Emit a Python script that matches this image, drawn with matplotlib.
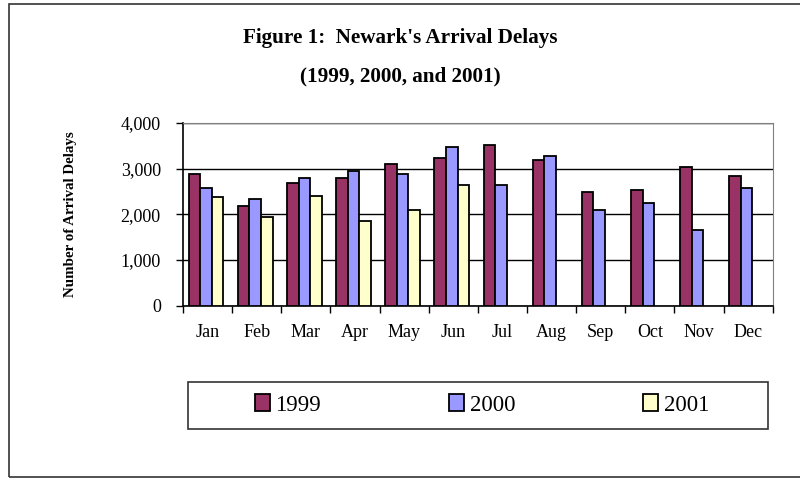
import matplotlib
matplotlib.use("Agg")
import matplotlib.pyplot as plt
import numpy as np
from matplotlib.patches import Rectangle
from matplotlib.ticker import FuncFormatter, FixedLocator

months = ['Jan', 'Feb', 'Mar', 'Apr', 'May', 'Jun',
          'Jul', 'Aug', 'Sep', 'Oct', 'Nov', 'Dec']
delays_1999 = [2880, 2180, 2680, 2800, 3100, 3230,
               3510, 3200, 2480, 2530, 3040, 2850]
delays_2000 = [2570, 2330, 2800, 2950, 2880, 3470,
               2650, 3280, 2090, 2250, 1660, 2570]
delays_2001 = [2370, 1940, 2400, 1860, 2090, 2650]

plt.rcParams['font.family'] = ['Liberation Serif', 'DejaVu Serif']

fig = plt.figure(figsize=(8, 4.78), dpi=100)

# outer chart border (right side runs off the picture)
fig.patches.append(Rectangle((9 / 800, 1.5 / 478), 1.0, 1 - 5.5 / 478,
                             transform=fig.transFigure, fill=False,
                             edgecolor='#333333', linewidth=1.2, zorder=0))

ax = fig.add_axes([183 / 800, 1 - 305.7 / 478, 589.7 / 800, 182.7 / 478])

x = np.arange(len(months))
w = 0.235
shift = -0.03
ax.bar(x - w + shift, delays_1999, w, color='#993366', edgecolor='black',
       linewidth=1.3, label='1999', zorder=3)
ax.bar(x + shift, delays_2000, w, color='#9999FF', edgecolor='black',
       linewidth=1.3, label='2000', zorder=3)
ax.bar(x[:len(delays_2001)] + w + shift, delays_2001, w, color='#FFFFCC',
       edgecolor='black', linewidth=1.3, label='2001', zorder=3)

ax.set_xlim(-0.5, len(months) - 0.5)
ax.set_ylim(0, 4000)
ax.set_yticks([0, 1000, 2000, 3000, 4000])
ax.yaxis.set_major_formatter(FuncFormatter(lambda v, p: f'{int(v):,}'))
ax.yaxis.grid(True, color='black', linewidth=1.0, zorder=0)
ax.tick_params(axis='y', direction='out', length=5, width=1,
               labelsize=13, pad=11)

# ticks between months, labels in the middle
ax.xaxis.set_major_locator(FixedLocator(np.arange(-0.5, len(months), 1)))
ax.xaxis.set_major_formatter(FuncFormatter(lambda v, p: ''))
ax.xaxis.set_minor_locator(FixedLocator(x))
ax.set_xticklabels(months, minor=True)
ax.tick_params(axis='x', which='major', direction='out', length=5, width=1)
ax.tick_params(axis='x', which='minor', length=0, labelsize=13, pad=13)

for side in ['top', 'right']:
    ax.spines[side].set_color('#808080')
for side in ['left', 'bottom']:
    ax.spines[side].set_color('black')
    ax.spines[side].set_linewidth(1.2)

ax.set_ylabel('Number of Arrival Delays', fontsize=10.8, fontweight='bold',
              labelpad=31)

fig.text(0.5, 1 - 38 / 478, "Figure 1:  Newark's Arrival Delays",
         ha='center', va='center', fontsize=15.2, fontweight='bold')
fig.text(0.5, 1 - 76 / 478, "(1999, 2000, and 2001)",
         ha='center', va='center', fontsize=15.2, fontweight='bold')

# legend box
fig.patches.append(Rectangle((188 / 800, 1 - 429 / 478), 580 / 800, 47.3 / 478,
                             transform=fig.transFigure, fill=False,
                             edgecolor='#333333', linewidth=1.2))
ax.legend(loc='center', bbox_to_anchor=(482 / 800, 1 - 405 / 478),
          bbox_transform=fig.transFigure, ncol=3, frameon=False,
          prop={'family': 'Liberation Serif', 'size': 16.5},
          handlelength=0.655, handleheight=0.7,
          handletextpad=0.25, columnspacing=5.58)

fig.savefig('out.png', dpi=100)
